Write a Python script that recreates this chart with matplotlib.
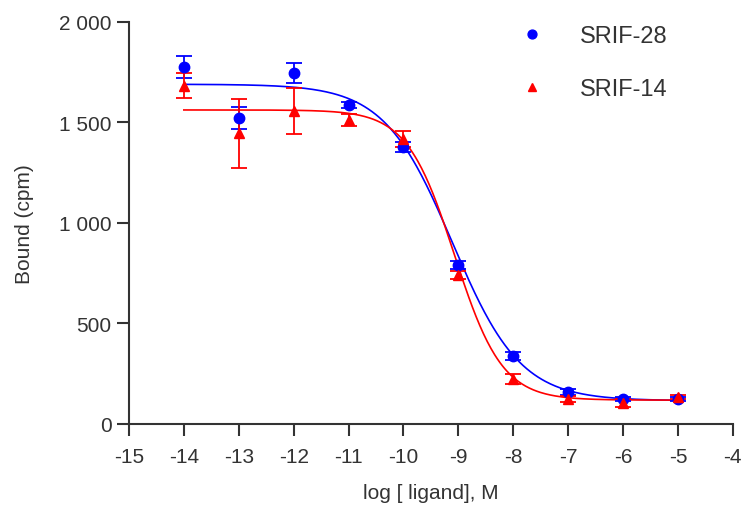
import numpy as np
import matplotlib.pyplot as plt
from matplotlib.ticker import FuncFormatter

# log [ligand] (M)
log_conc = [-14, -13, -12, -11, -10, -9, -8, -7, -6, -5]

srif28_mean = [1776, 1520, 1746, 1587, 1378, 791, 338, 159, 124, 124]
srif28_err = [55, 55, 50, 15, 25, 20, 20, 15, 10, 10]

srif14_mean = [1682, 1445, 1557, 1512, 1418, 741, 224, 124, 104, 134]
srif14_err = [62, 170, 115, 30, 40, 20, 25, 15, 20, 10]

# 4-parameter logistic fit parameters: top, bottom, logIC50, hill slope
srif28_fit = (1690, 115, -9.11, 0.70)
srif14_fit = (1562, 118, -9.07, 1.00)

x_ticks = list(range(-15, -3))
y_ticks = [0, 500, 1000, 1500, 2000]


def logistic(x, top, bottom, logic50, hill):
    return bottom + (top - bottom) / (1 + 10 ** ((x - logic50) * hill))


plt.rcParams['font.family'] = ['Liberation Sans', 'DejaVu Sans']
plt.rcParams['axes.unicode_minus'] = False
fig = plt.figure(figsize=(7.41, 5.10), dpi=100)
ax = fig.add_axes([0.174, 0.167, 0.815, 0.788])

xs = np.linspace(log_conc[0], log_conc[-1], 400)
ax.plot(xs, logistic(xs, *srif28_fit), color='#0000ff', lw=1.2)
ax.plot(xs, logistic(xs, *srif14_fit), color='#ff0000', lw=1.2)

ax.errorbar(log_conc, srif28_mean, yerr=srif28_err, fmt='o', color='#0000ff',
            ms=7.5, capsize=6, elinewidth=1.3, capthick=1.3, label='SRIF-28')
ax.errorbar(log_conc, srif14_mean, yerr=srif14_err, fmt='^', color='#ff0000',
            ms=7.5, capsize=6, elinewidth=1.3, capthick=1.3, label='SRIF-14')

ax.set_xlim(-15, -4)
ax.set_ylim(0, 2000)
ax.set_xticks(x_ticks)
ax.set_yticks(y_ticks)
ax.yaxis.set_major_formatter(FuncFormatter(lambda v, p: f'{int(v):,}'.replace(',', ' ')))

for side in ['top', 'right']:
    ax.spines[side].set_visible(False)
for side in ['left', 'bottom']:
    ax.spines[side].set_color('#333333')
    ax.spines[side].set_linewidth(1.5)
ax.tick_params(direction='out', length=8.5, width=1.5, color='#333333',
               labelsize=15, labelcolor='#333333', pad=4)
ax.tick_params(axis='x', pad=8)

ax.set_xlabel('log [ ligand], M', fontsize=15, color='#333333', labelpad=12.5)
ax.set_ylabel('Bound (cpm)', fontsize=15, color='#333333', labelpad=18)

handles, labels = ax.get_legend_handles_labels()
handles = [h[0] for h in handles]
leg = fig.legend(handles, labels, loc='upper left', bbox_to_anchor=(0.702, 0.949),
                 frameon=False, fontsize=17, markerscale=0.85, handlelength=1.0,
                 handletextpad=1.53, labelspacing=1.31, borderpad=0, borderaxespad=0)
for t in leg.get_texts():
    t.set_color('#333333')

fig.savefig('out.png', dpi=100)
